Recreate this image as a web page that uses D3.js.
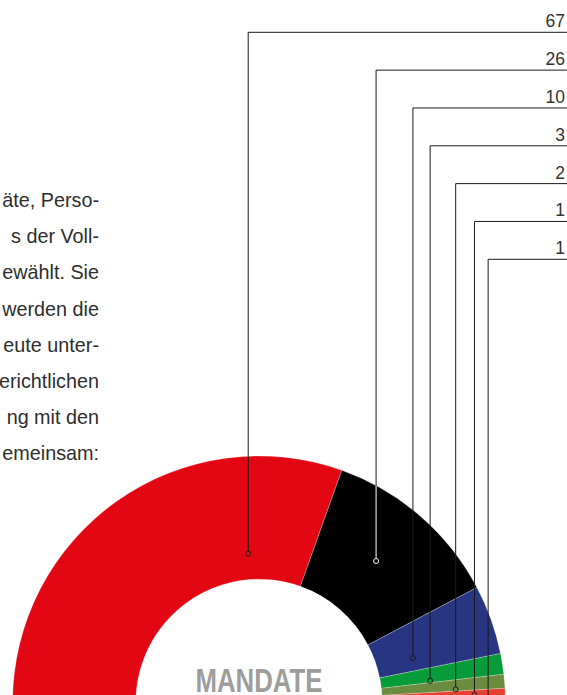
<!DOCTYPE html>
<meta charset="utf-8">
<style>
body { margin: 0; background: #fff; }
svg { display: block; }
.copy text { font: 19.8px "Liberation Sans", Arial, sans-serif; fill: #2e2e2e; }
.label { font: 17.5px "Liberation Sans", Arial, sans-serif; fill: #333; }
.title { font: bold 34px "Liberation Sans", Arial, sans-serif; fill: #9d9d9c; }
</style>
<body>
<script src="https://cdn.jsdelivr.net/npm/d3@7"></script>
<script>

// seats per party (order as drawn, left to right over the arc)
var parties = ["p1", "p2", "p3", "p4", "p5", "p6", "p7"];
var seats = [67, 26, 10, 3, 2, 1, 1];
var colors = ["#e30613", "#000000", "#283583", "#089b3a", "#6b8b3f", "#e84133", "#f39200"];

// paragraph fragments at the left (rest of the column is cut off)
var copyLines = [
  "äte, Perso-",
  "s der Voll-",
  "ewählt. Sie",
  "werden die",
  "eute unter-",
  "erichtlichen",
  "ng mit den",
  "emeinsam:"
];

var width = 567, height = 695;
var cx = 259, cy = 702.4, outerR = 246.4, innerR = 123.2;

// where the leader dot sits inside each slice (fraction along angle, fraction across ring)
var dotAlong = [0.783, 0.47, 0.72, 0.87, 0.84, 0.8, 0.5];
var dotAcross = [0.21, 0.49, 0.30, 0.40, 0.60, 0.75, 0.86];

var svg = d3.select("body").append("svg")
    .attr("width", width)
    .attr("height", height);

// text column, right-aligned edge of a justified block
svg.append("g")
    .attr("class", "copy")
  .selectAll("text")
    .data(copyLines)
  .enter().append("text")
    .attr("x", 99)
    .attr("y", function(d, i) { return 207 + i * 36.2; })
    .attr("text-anchor", "end")
    .text(function(d) { return d; });

var pie = d3.pie()
    .sort(null)
    .startAngle(-Math.PI / 2)
    .endAngle(Math.PI / 2);

var arcs = pie(seats);

var arc = d3.arc()
    .innerRadius(innerR)
    .outerRadius(outerR);

var chart = svg.append("g")
    .attr("transform", "translate(" + cx + "," + cy + ")");

chart.selectAll("path.slice")
    .data(arcs)
  .enter().append("path")
    .attr("class", "slice")
    .attr("d", arc)
    .attr("fill", function(d, i) { return colors[i]; })
    .attr("stroke", "#fff")
    .attr("stroke-opacity", 0.5)
    .attr("stroke-width", 0.5);

// clip paths per slice, used to flip leader ink on dark slices
var defs = svg.append("defs");
arcs.forEach(function(d, i) {
  defs.append("clipPath")
      .attr("id", "clip" + i)
    .append("path")
      .attr("d", arc(d));
});

chart.append("text")
    .attr("class", "title")
    .attr("x", 0)
    .attr("y", 692.3 - cy)
    .attr("text-anchor", "middle")
    .attr("textLength", 127)
    .attr("lengthAdjust", "spacingAndGlyphs")
    .text("MANDATE");

var lineY = d3.scaleLinear()
    .domain([0, 1])
    .range([32.3, 70.13]);

function dotPos(d, i) {
  var a = d.startAngle + dotAlong[i] * (d.endAngle - d.startAngle);
  var r = innerR + dotAcross[i] * (outerR - innerR);
  return [r * Math.sin(a), -r * Math.cos(a)];
}

var leaders = chart.selectAll("g.leader")
    .data(arcs)
  .enter().append("g")
    .attr("class", "leader");

leaders.each(function(d, i) {
  var g = d3.select(this);
  var p = dotPos(d, i);
  var y0 = lineY(i) - cy;
  var pts = [[p[0], p[1] - 2.5], [p[0], y0], [width - cx, y0]];
  var dark = colors[i] === "#000000";

  g.append("path")
      .attr("d", d3.line()(pts))
      .attr("fill", "none")
      .attr("stroke", "#1a1a1a")
      .attr("stroke-width", 1);

  if (dark) {
    g.append("path")
        .attr("d", d3.line()(pts))
        .attr("clip-path", "url(#clip" + i + ")")
        .attr("fill", "none")
        .attr("stroke", "#fff")
        .attr("stroke-width", 1);
  }

  g.append("circle")
      .attr("cx", p[0])
      .attr("cy", p[1])
      .attr("r", 2.5)
      .attr("fill", "none")
      .attr("stroke", dark ? "#fff" : "#1a1a1a")
      .attr("stroke-width", 1);

  g.append("text")
      .attr("class", "label")
      .attr("x", width - cx - 2)
      .attr("y", y0 - 5)
      .attr("text-anchor", "end")
      .text(seats[i]);
});

</script>
</body>
